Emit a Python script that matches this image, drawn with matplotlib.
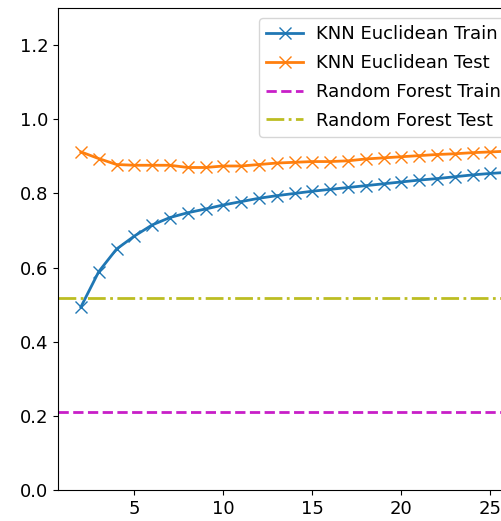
import numpy as np
import matplotlib
matplotlib.use('Agg')
from matplotlib import pyplot as plt

k = list(range(2, 27))
knn_train = [0.494, 0.589, 0.650, 0.685, 0.715, 0.735, 0.748, 0.758, 0.769, 0.778,
             0.787, 0.794, 0.800, 0.806, 0.811, 0.816, 0.821, 0.826, 0.831, 0.836,
             0.840, 0.845, 0.850, 0.854, 0.857]
knn_test = [0.912, 0.894, 0.878, 0.876, 0.876, 0.876, 0.870, 0.870, 0.874, 0.874,
            0.878, 0.882, 0.884, 0.886, 0.886, 0.888, 0.893, 0.896, 0.899, 0.902,
            0.905, 0.907, 0.910, 0.912, 0.914]
rf_train = 0.211
rf_test = 0.518

plt.rcParams['font.size'] = 13

fig = plt.figure(figsize=(5.02, 5.21), dpi=100)
ax = fig.add_axes([0.1155, 0.0595, 1.014, 0.925])

ax.plot(k, knn_train, marker='x', markersize=9, lw=2, color='tab:blue', label='KNN Euclidean Train')
ax.plot(k, knn_test, marker='x', markersize=9, lw=2, color='tab:orange', label='KNN Euclidean Test')
ax.axhline(rf_train, color='#c81ec8', ls='--', lw=2, label='Random Forest Train')
ax.axhline(rf_test, color='tab:olive', ls='-.', lw=2, label='Random Forest Test')

ax.set_xlim(0.71, 29.3)
ax.set_ylim(0, 1.3)
ax.set_xticks([5, 10, 15, 20, 25])
ax.set_yticks(np.arange(0, 1.21, 0.2))
ax.legend(loc='upper left', bbox_to_anchor=(259/502, 1 - 18/521),
          bbox_transform=fig.transFigure, borderaxespad=0, borderpad=0.4,
          handlelength=2.05, handletextpad=0.7, labelspacing=0.6)

fig.savefig('out.png', dpi=100)
